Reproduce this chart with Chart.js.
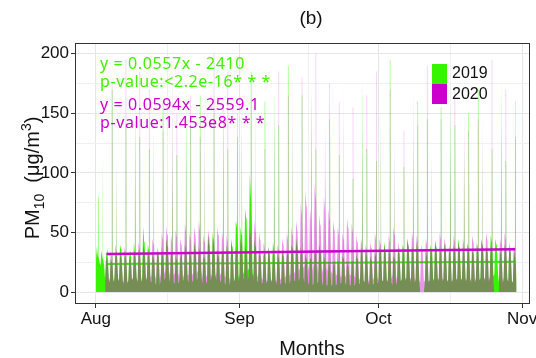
<!DOCTYPE html>
<html>
<head>
<meta charset="utf-8">
<script src="https://cdn.jsdelivr.net/npm/chart.js@4.4.1/dist/chart.umd.min.js"></script>
<style>
  html, body { margin: 0; padding: 0; background: #fff; }
  canvas { display: block; }
</style>
</head>
<body>
<canvas id="pm10" width="536" height="358"></canvas>
<script>
// Day 0 = 1 Aug. Each day: night low, morning hump, evening level and a short evening spike.
const start2019 = 0;
const low2019 = [
  25, 22, 10, 8, 12, 9, 7, 10, 12, 8,
  14, 9, 8, 6, 10, 12, 8, 7, 9, 11,
  8, 10, 12, 7, 9, 14, 10, 8, 6, 9,
  12, 15, 18, 20, 10, 8, 7, 9, 11, 6,
  8, 7, 10, 9, 12, 8, 6, 7, 9, 5,
  6, 5, 7, 8, 6, 5, 7, 9, 8, 6,
  7, 9, 10, 8, 6, 9, 11, 12, 8, 10,
  0, 8, 10, 12, 9, 11, 8, 10, 12, 9,
  11, 8, 10, 12, 9, 13, 15, 8, 10, 9, 8
];
const hump2019 = [
  38, 35, 30, 28, 32, 40, 35, 30, 42, 36,
  55, 40, 33, 30, 38, 45, 35, 30, 28, 40,
  35, 42, 38, 30, 48, 50, 36, 32, 40, 45,
  60, 55, 70, 100, 45, 35, 30, 38, 42, 33,
  35, 30, 40, 45, 38, 32, 28, 35, 40, 30,
  25, 22, 28, 30, 26, 24, 32, 38, 35, 30,
  33, 38, 42, 36, 30, 35, 40, 45, 38, 42,
  0, 35, 40, 44, 38, 42, 36, 40, 45, 38,
  42, 36, 40, 44, 38, 48, 45, 35, 40, 38, 36
];
const eve2019 = [
  30, 28, 35, 25, 30, 36, 28, 34, 32, 30,
  42, 35, 28, 34, 30, 38, 32, 27, 33, 35,
  30, 36, 33, 28, 40, 44, 30, 35, 33, 38,
  55, 48, 62, 80, 38, 30, 34, 32, 36, 28,
  30, 34, 36, 38, 32, 28, 30, 32, 35, 26,
  22, 26, 24, 28, 22, 26, 28, 32, 30, 27,
  30, 34, 36, 32, 28, 33, 36, 38, 34, 36,
  0, 30, 35, 38, 33, 36, 32, 35, 38, 34,
  36, 32, 35, 38, 34, 42, 40, 32, 36, 34, 30
];
const spike2019 = [
  80, 120, 150, 170, 110, 190, 140, 95, 160, 130,
  175, 120, 145, 100, 160, 200, 130, 115, 150, 180,
  140, 110, 165, 125, 190, 150, 135, 170, 120, 200,
  130, 155, 120, 185, 100, 145, 160, 115, 175, 140,
  125, 190, 150, 110, 165, 135, 180, 120, 155, 100,
  145, 170, 115, 160, 130, 95, 150, 185, 120, 140,
  110, 165, 140, 195, 125, 150, 105, 170, 135, 160,
  0, 145, 120, 180, 155, 110, 165, 140, 190, 125,
  150, 115, 170, 135, 160, 120, 145, 185, 110, 165, 130
];

const start2020 = 2;
const low2020 = [
  12, 10, 9, 11, 8, 10, 12, 9,
  10, 12, 14, 11, 15, 18, 14, 16, 12, 15,
  14, 16, 18, 12, 15, 13, 16, 14, 12, 10,
  9, 12, 10, 14, 15, 12, 10, 9, 8, 10,
  12, 14, 15, 18, 20, 22, 18, 24, 16, 20,
  18, 15, 14, 12, 15, 14, 12, 10, 9, 10,
  12, 10, 9, 11, 14, 10, 9, 11, 12, 10,
  8, 10, 9, 10, 12, 10, 9, 11, 10, 12,
  9, 12, 10, 11, 12, 9, 0, 10, 12, 9, 8
];
const hump2020 = [
  30, 35, 40, 33, 38, 30, 35, 42,
  40, 35, 45, 38, 50, 55, 48, 52, 45, 58,
  50, 55, 60, 48, 52, 45, 55, 50, 48, 42,
  38, 45, 40, 55, 60, 50, 42, 38, 35, 40,
  45, 50, 55, 60, 75, 85, 70, 90, 65, 80,
  70, 60, 55, 50, 62, 58, 48, 45, 40, 42,
  50, 45, 40, 48, 55, 42, 38, 45, 50, 48,
  40, 45, 38, 42, 50, 45, 40, 48, 42, 45,
  40, 48, 42, 45, 50, 40, 0, 45, 50, 42, 40
];
const eve2020 = [
  26, 30, 34, 28, 33, 27, 30, 36,
  34, 30, 40, 33, 44, 48, 42, 46, 40, 50,
  44, 48, 52, 42, 46, 40, 48, 44, 42, 36,
  33, 40, 35, 46, 50, 44, 36, 33, 30, 35,
  40, 44, 48, 52, 65, 72, 60, 78, 56, 68,
  60, 52, 48, 44, 54, 50, 42, 40, 35, 37,
  44, 40, 35, 42, 48, 37, 33, 40, 44, 42,
  35, 40, 33, 37, 44, 40, 35, 42, 37, 40,
  35, 42, 37, 40, 44, 35, 0, 40, 44, 37, 35
];
const spike2020 = [
  140, 175, 120, 160, 195, 130, 150, 185,
  125, 170, 145, 190, 135, 160, 200, 150, 175, 140,
  165, 195, 130, 180, 155, 200, 140, 170, 185, 125,
  150, 175, 135, 160, 190, 145, 120, 170, 155, 185,
  140, 165, 195, 150, 180, 130, 170, 200, 160, 145,
  175, 135, 160, 190, 125, 155, 180, 140, 165, 130,
  185, 150, 120, 170, 145, 195, 135, 160, 175, 140,
  155, 190, 130, 165, 145, 180, 125, 170, 150, 160,
  135, 175, 145, 160, 130, 195, 0, 150, 170, 140, 160
];

// linear fits, evaluated at the ends of the fitted span
const trendDays = [2.3, 90.5];
const trend2019 = [23.5, 25.5];
const trend2020 = [32, 36];

const monthDays = [0, 31, 61, 92];
const monthLabels = ['Aug', 'Sep', 'Oct', 'Nov'];
const midMonthDays = [15.5, 46, 76.5];
const yTicks = [0, 25, 50, 75, 100, 125, 150, 175, 200];

const GREEN = 'rgb(55,245,0)';
const MAGENTA = '#cc00cc';
const SANS = '"Liberation Sans", Arial, sans-serif';

function hourly(start, low, hump, eve, spike) {
  const pts = [];
  low.forEach((lo, i) => {
    const d = start + i;
    pts.push(
      { x: d, y: lo },
      { x: d + 0.22, y: hump[i] },
      { x: d + 0.43, y: eve[i] },
      { x: d + 0.46, y: spike[i] },
      { x: d + 0.54, y: spike[i] },
      { x: d + 0.57, y: eve[i] },
      { x: d + 0.8, y: lo }
    );
  });
  return pts;
}

function line(vals) {
  return trendDays.map((d, i) => ({ x: d, y: vals[i] }));
}

const frameAndText = {
  id: 'frameAndText',
  beforeDraw(chart) {
    const c = chart.ctx;
    c.save();
    c.fillStyle = '#fff';
    c.fillRect(0, 0, chart.width, chart.height);
    c.restore();
  },
  afterDraw(chart) {
    const c = chart.ctx;
    const a = chart.chartArea;
    c.save();
    c.strokeStyle = '#333';
    c.lineWidth = 1;
    c.strokeRect(a.left + 0.5, a.top + 0.5, a.right - a.left - 1, a.bottom - a.top - 1);

    c.fillStyle = '#111';
    c.textAlign = 'center';
    c.textBaseline = 'middle';
    c.font = '19px ' + SANS;
    c.fillText('(b)', 311, 19);
    c.font = '20px ' + SANS;
    c.textBaseline = 'alphabetic';
    c.fillText('Months', 312, 355);

    // y title with sub- and superscript
    const parts = [
      ['PM', 20, 0], ['10', 14, 5], ['  (\u03bcg/m', 20, 0], ['3', 14, -8], [')', 20, 0]
    ];
    let total = 0;
    parts.forEach(p => {
      c.font = p[1] + 'px ' + SANS;
      total += c.measureText(p[0]).width;
    });
    c.translate(32, 178);
    c.rotate(-Math.PI / 2);
    c.textAlign = 'left';
    let px = -total / 2;
    parts.forEach(p => {
      c.font = p[1] + 'px ' + SANS;
      c.fillText(p[0], px, 7 + p[2]);
      px += c.measureText(p[0]).width;
    });
    c.setTransform(1, 0, 0, 1, 0, 0);

    // fit equations
    c.textAlign = 'left';
    c.textBaseline = 'middle';
    c.font = '16px "Noto Sans", "Open Sans", sans-serif';
    c.letterSpacing = '0.6px';
    c.fillStyle = '#44ee00';
    c.fillText('y = 0.0557x - 2410', 100, 64);
    c.fillText('p-value:<2.2e-16* * *', 100, 82);
    c.fillStyle = MAGENTA;
    c.fillText('y = 0.0594x - 2559.1', 100, 105);
    c.fillText('p-value:1.453e8* * *', 100, 123);
    c.letterSpacing = '0px';

    // legend
    c.fillStyle = GREEN;
    c.fillRect(432, 64, 15, 20);
    c.fillStyle = MAGENTA;
    c.fillRect(432, 84, 15, 20);
    c.fillStyle = '#111';
    c.font = '16px ' + SANS;
    c.fillText('2019', 452, 74);
    c.fillText('2020', 452, 95);
    c.restore();
  }
};

new Chart(document.getElementById('pm10'), {
  type: 'line',
  data: {
    datasets: [
      {
        label: '2019',
        data: hourly(start2019, low2019, hump2019, eve2019, spike2019),
        backgroundColor: GREEN,
        borderWidth: 0,
        fill: 'origin',
        order: 4
      },
      {
        label: '2019 fit',
        data: line(trend2019),
        borderColor: '#33ee00',
        borderWidth: 2,
        fill: false,
        order: 3
      },
      {
        label: '2020',
        data: hourly(start2020, low2020, hump2020, eve2020, spike2020),
        backgroundColor: 'rgba(204,0,204,0.42)',
        borderWidth: 0,
        fill: 'origin',
        order: 2
      },
      {
        label: '2020 fit',
        data: line(trend2020),
        borderColor: MAGENTA,
        borderWidth: 2.5,
        fill: false,
        order: 1
      }
    ]
  },
  options: {
    responsive: false,
    animation: false,
    events: [],
    elements: { point: { radius: 0 }, line: { tension: 0 } },
    layout: { padding: { left: 0, right: 6, top: 43, bottom: 0 } },
    plugins: { legend: { display: false }, tooltip: { enabled: false } },
    scales: {
      x: {
        type: 'linear',
        min: -4.5,
        max: 93.7,
        border: { display: false },
        grid: {
          color: ctx => monthDays.includes(ctx.tick.value) ? '#e6e6e6' : '#f0f0f0',
          tickColor: ctx => monthDays.includes(ctx.tick.value) ? '#333' : 'rgba(0,0,0,0)',
          tickLength: 4
        },
        afterBuildTicks: s => {
          s.ticks = monthDays.concat(midMonthDays).sort((p, q) => p - q).map(v => ({ value: v }));
        },
        afterFit: s => {
          s.height = 54;
          s.paddingLeft = 0;
          s.paddingRight = 0;
        },
        ticks: {
          autoSkip: false,
          maxRotation: 0,
          padding: 1,
          color: '#111',
          font: { family: SANS, size: 17 },
          callback: v => {
            const i = monthDays.indexOf(v);
            return i >= 0 ? monthLabels[i] : '';
          }
        }
      },
      y: {
        min: -10,
        max: 209,
        border: { display: false },
        grid: {
          color: ctx => ctx.tick.value % 50 === 0 ? '#e6e6e6' : '#f0f0f0',
          tickColor: ctx => ctx.tick.value % 50 === 0 ? '#333' : 'rgba(0,0,0,0)',
          tickLength: 4
        },
        afterBuildTicks: s => {
          s.ticks = yTicks.map(v => ({ value: v }));
        },
        afterFit: s => {
          s.width = 75;
          s.paddingTop = 0;
          s.paddingBottom = 0;
        },
        ticks: {
          padding: 2,
          color: '#111',
          font: { family: SANS, size: 17 },
          callback: v => v % 50 === 0 ? String(v) : ''
        }
      }
    }
  },
  plugins: [frameAndText]
});
</script>
</body>
</html>
